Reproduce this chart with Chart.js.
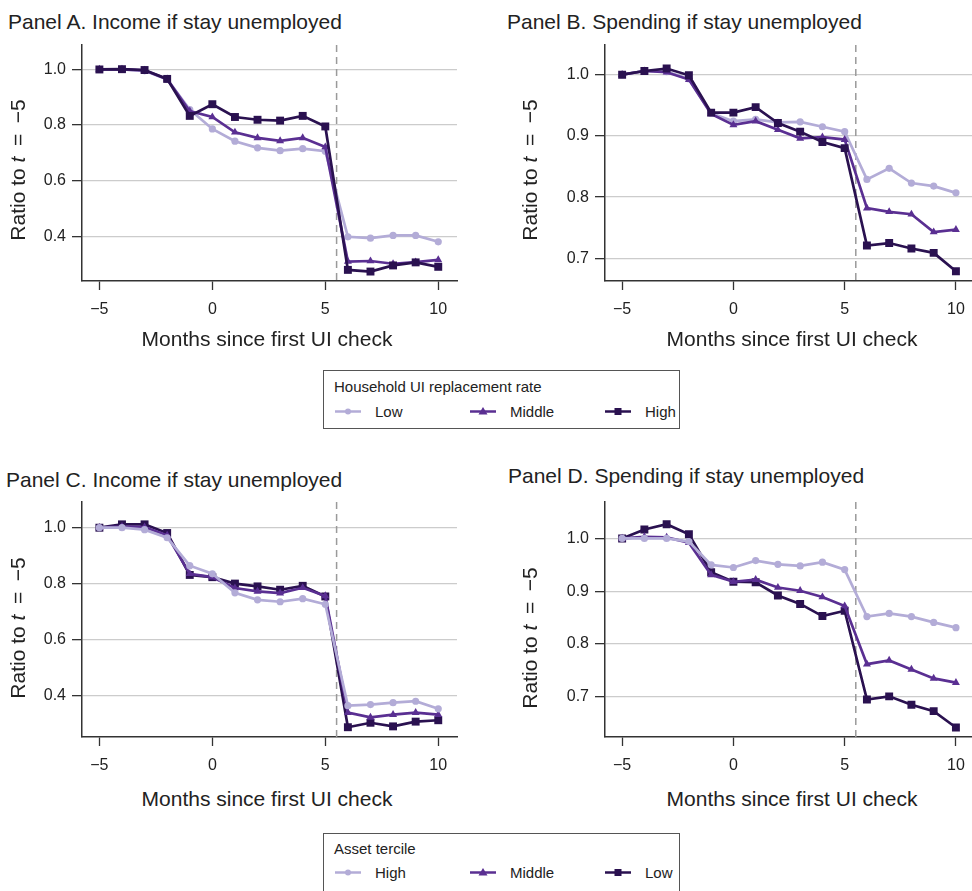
<!DOCTYPE html>
<html>
<head>
<meta charset="utf-8">
<script src="https://cdn.jsdelivr.net/npm/chart.js@4.4.1/dist/chart.umd.min.js"></script>
<style>
  body { margin: 0; background: #fff; overflow: hidden; }
  #page { position: relative; width: 972px; height: 891px; overflow: hidden;
          font-family: "Liberation Sans", Arial, Helvetica, sans-serif; color: #222; }
  canvas { position: absolute; }
  .ptitle { position: absolute; font-size: 21px; white-space: nowrap; line-height: 1; transform: translateY(-50%); }
  .xtitle { position: absolute; font-size: 21px; white-space: nowrap; transform: translate(-50%, -50%); }
  .ytitle { position: absolute; font-size: 21px; white-space: nowrap; transform: translate(-50%, -50%) rotate(-90deg); }
  .legend { position: absolute; left: 323px; width: 357px; box-sizing: border-box; border: 1px solid #555; background: #fff; }
  .legend .ltitle { position: absolute; left: 10px; font-size: 15px; white-space: nowrap; transform: translateY(-50%); }
  .legend .item { position: absolute; font-size: 15px; white-space: nowrap; transform: translateY(-50%); display: flex; align-items: center; }
  .legend svg { margin-right: 14px; }
</style>
</head>
<body>
<div id="page">
  <div class="ptitle" style="left:8px; top:21px">Panel A. Income if stay unemployed</div>
  <div class="ptitle" style="left:507px; top:21px">Panel B. Spending if stay unemployed</div>
  <div class="ptitle" style="left:6px; top:479px">Panel C. Income if stay unemployed</div>
  <div class="ptitle" style="left:508px; top:475px">Panel D. Spending if stay unemployed</div>

  <canvas id="chartA" width="480" height="330" style="left:0; top:0"></canvas>
  <canvas id="chartB" width="480" height="330" style="left:500px; top:0"></canvas>
  <canvas id="chartC" width="480" height="330" style="left:0; top:457px"></canvas>
  <canvas id="chartD" width="480" height="330" style="left:500px; top:457px"></canvas>

  <div class="ytitle" style="left:18px; top:170px">Ratio to <i>t</i>&ensp;=&ensp;−5</div>
  <div class="ytitle" style="left:530px; top:170px">Ratio to <i>t</i>&ensp;=&ensp;−5</div>
  <div class="ytitle" style="left:18px; top:628px">Ratio to <i>t</i>&ensp;=&ensp;−5</div>
  <div class="ytitle" style="left:530px; top:638px">Ratio to <i>t</i>&ensp;=&ensp;−5</div>

  <div class="xtitle" style="left:267px; top:339px">Months since first UI check</div>
  <div class="xtitle" style="left:792px; top:339px">Months since first UI check</div>
  <div class="xtitle" style="left:267px; top:799px">Months since first UI check</div>
  <div class="xtitle" style="left:792px; top:799px">Months since first UI check</div>

  <div class="legend" id="legendTop" style="top:370px; height:59px"></div>
  <div class="legend" id="legendBottom" style="top:833px; height:70px"></div>
</div>

<script>
// months relative to first UI check
const months = [-5, -4, -3, -2, -1, 0, 1, 2, 3, 4, 5, 6, 7, 8, 9, 10];
const cutoffMonth = 5.5;

const xTicks = [-5, 0, 5, 10];
const incomeTicks = [0.4, 0.6, 0.8, 1.0];
const spendingTicks = [0.7, 0.8, 0.9, 1.0];

// Panel A: income, by UI replacement rate
const incomeLowRate    = [1.0, 1.0, 0.995, 0.964, 0.856, 0.786, 0.742, 0.718, 0.708, 0.715, 0.706, 0.398, 0.393, 0.403, 0.403, 0.380];
const incomeMiddleRate = [1.0, 1.0, 0.997, 0.965, 0.850, 0.829, 0.774, 0.754, 0.743, 0.754, 0.721, 0.309, 0.311, 0.301, 0.307, 0.315];
const incomeHighRate   = [1.0, 1.001, 0.998, 0.966, 0.833, 0.875, 0.829, 0.819, 0.816, 0.833, 0.795, 0.279, 0.273, 0.295, 0.306, 0.290];

// Panel B: spending, by UI replacement rate
const spendLowRate    = [1.0, 1.006, 1.005, 0.993, 0.937, 0.924, 0.927, 0.922, 0.923, 0.915, 0.907, 0.829, 0.847, 0.823, 0.818, 0.807];
const spendMiddleRate = [1.0, 1.006, 1.004, 0.992, 0.936, 0.918, 0.924, 0.910, 0.896, 0.898, 0.894, 0.782, 0.776, 0.772, 0.743, 0.747];
const spendHighRate   = [1.0, 1.006, 1.010, 0.999, 0.938, 0.938, 0.947, 0.921, 0.907, 0.890, 0.880, 0.721, 0.725, 0.716, 0.709, 0.679];

// Panel C: income, by asset tercile
const incomeHighAssets   = [1.0, 1.0, 0.993, 0.964, 0.864, 0.835, 0.767, 0.742, 0.735, 0.746, 0.726, 0.363, 0.367, 0.374, 0.379, 0.352];
const incomeMiddleAssets = [1.0, 1.004, 1.002, 0.973, 0.835, 0.823, 0.784, 0.772, 0.766, 0.785, 0.756, 0.338, 0.321, 0.331, 0.338, 0.331];
const incomeLowAssets    = [1.0, 1.012, 1.012, 0.981, 0.831, 0.823, 0.800, 0.790, 0.778, 0.792, 0.754, 0.286, 0.302, 0.289, 0.306, 0.311];

// Panel D: spending, by asset tercile
const spendHighAssets   = [1.0, 1.0, 1.0, 0.994, 0.950, 0.945, 0.958, 0.951, 0.948, 0.955, 0.941, 0.852, 0.858, 0.852, 0.841, 0.831];
const spendMiddleAssets = [1.0, 1.003, 1.002, 0.992, 0.931, 0.918, 0.922, 0.907, 0.901, 0.889, 0.872, 0.762, 0.769, 0.752, 0.735, 0.727];
const spendLowAssets    = [1.0, 1.017, 1.027, 1.008, 0.936, 0.918, 0.917, 0.892, 0.876, 0.853, 0.863, 0.695, 0.701, 0.685, 0.673, 0.642];

const LIGHT = '#b3acd7';
const MID = '#5a2f92';
const DARK = '#2a1150';

const minus = v => (v < 0 ? '\u2212' + Math.abs(v) : String(v));

// dashed line at the month benefits run out
const cutoffLine = {
  id: 'cutoffLine',
  beforeDatasetsDraw(chart) {
    const { ctx, chartArea, scales } = chart;
    const x = scales.x.getPixelForValue(cutoffMonth);
    ctx.save();
    ctx.strokeStyle = '#9a9a9a';
    ctx.lineWidth = 1.5;
    ctx.setLineDash([7, 5]);
    ctx.beginPath();
    ctx.moveTo(x, chartArea.top);
    ctx.lineTo(x, chartArea.bottom);
    ctx.stroke();
    ctx.restore();
  }
};

function series(values, color, style, radius, order) {
  return {
    data: months.map((m, i) => ({ x: m, y: values[i] })),
    borderColor: color,
    backgroundColor: color,
    pointBackgroundColor: color,
    pointBorderColor: color,
    pointBorderWidth: 0,
    pointStyle: style,
    pointRadius: radius,
    borderWidth: 2.7,
    tension: 0,
    order: order
  };
}

/**
 * Build one panel.
 * @param {String} id canvas id
 * @param {Array} datasets line datasets
 * @param {Number} yMin, yMax axis range
 * @param {Array} yTicks tick values
 * @param {Number} yAxisWidth width of the y scale box
 */
function makePanel(id, datasets, yMin, yMax, yTicks, yAxisWidth, xAxisHeight, rightPad) {
  new Chart(document.getElementById(id), {
    type: 'line',
    data: { datasets: datasets },
    options: {
      responsive: false,
      animation: false,
      layout: { padding: { left: 0, top: 45, right: rightPad, bottom: 0 } },
      plugins: { legend: { display: false }, tooltip: { enabled: false } },
      scales: {
        x: {
          type: 'linear',
          min: -5.77,
          max: 10.83,
          afterBuildTicks: s => { s.ticks = xTicks.map(v => ({ value: v })); },
          afterFit: s => { s.height = xAxisHeight; },
          grid: { drawOnChartArea: false, drawTicks: true, tickLength: 9, tickColor: '#333', tickWidth: 1.3 },
          border: { display: true, color: '#333', width: 1.5 },
          ticks: { color: '#222', font: { size: 16, family: '"Liberation Sans", Arial' }, padding: 10,
                   maxRotation: 0, callback: v => minus(v) }
        },
        y: {
          min: yMin,
          max: yMax,
          afterBuildTicks: s => { s.ticks = yTicks.map(v => ({ value: v })); },
          afterFit: s => { s.width = yAxisWidth; },
          grid: { color: '#cccccc', lineWidth: 1.3, tickLength: 10, tickColor: '#333', tickWidth: 1.3 },
          border: { display: true, color: '#333', width: 1.5 },
          ticks: { color: '#222', font: { size: 16, family: '"Liberation Sans", Arial' }, padding: 6,
                   callback: v => v.toFixed(1) }
        }
      }
    },
    plugins: [cutoffLine]
  });
}

// top row: dark drawn on top; bottom row: light drawn on top
makePanel('chartA', [
  series(incomeLowRate, LIGHT, 'circle', 3.6, 3),
  series(incomeMiddleRate, MID, 'triangle', 4.6, 2),
  series(incomeHighRate, DARK, 'rect', 5.6, 1)
], 0.239, 1.088, incomeTicks, 82, 49, 23);

makePanel('chartB', [
  series(spendLowRate, LIGHT, 'circle', 3.6, 3),
  series(spendMiddleRate, MID, 'triangle', 4.6, 2),
  series(spendHighRate, DARK, 'rect', 5.6, 1)
], 0.663, 1.0485, spendingTicks, 105, 49, 0);

makePanel('chartC', [
  series(incomeHighAssets, LIGHT, 'circle', 3.6, 1),
  series(incomeMiddleAssets, MID, 'triangle', 4.6, 2),
  series(incomeLowAssets, DARK, 'rect', 5.6, 3)
], 0.251, 1.092, incomeTicks, 82, 50, 23);

makePanel('chartD', [
  series(spendHighAssets, LIGHT, 'circle', 3.6, 1),
  series(spendMiddleAssets, MID, 'triangle', 4.6, 2),
  series(spendLowAssets, DARK, 'rect', 5.6, 3)
], 0.624, 1.069, spendingTicks, 105, 50, 0);

// legends
function swatch(color, shape) {
  let marker = '';
  if (shape === 'circle') marker = `<circle cx="13" cy="6" r="3" fill="${color}"/>`;
  if (shape === 'triangle') marker = `<polygon points="13,1.5 17.5,9 8.5,9" fill="${color}"/>`;
  if (shape === 'rect') marker = `<rect x="9.5" y="2.5" width="7" height="7" fill="${color}"/>`;
  return `<svg width="26" height="12"><line x1="0" y1="6" x2="26" y2="6" stroke="${color}" stroke-width="2.5"/>${marker}</svg>`;
}

function buildLegend(id, title, labels, titleY, itemY) {
  const el = document.getElementById(id);
  const colors = [LIGHT, MID, DARK];
  const shapes = ['circle', 'triangle', 'rect'];
  const lefts = [11, 146, 281];
  let html = `<div class="ltitle" style="top:${titleY}px">${title}</div>`;
  labels.forEach((lab, i) => {
    html += `<div class="item" style="left:${lefts[i]}px; top:${itemY}px">${swatch(colors[i], shapes[i])}${lab}</div>`;
  });
  el.innerHTML = html;
}

buildLegend('legendTop', 'Household UI replacement rate', ['Low', 'Middle', 'High'], 15, 40);
buildLegend('legendBottom', 'Asset tercile', ['High', 'Middle', 'Low'], 14, 38);
</script>
</body>
</html>
